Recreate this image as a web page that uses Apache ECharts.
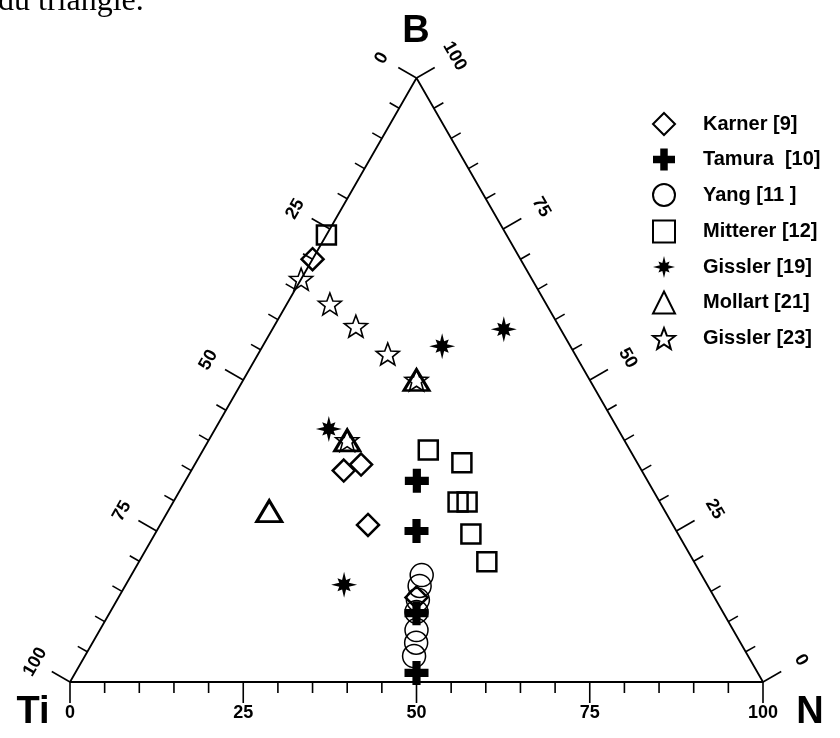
<!DOCTYPE html>
<html><head><meta charset="utf-8">
<script src="https://cdn.jsdelivr.net/npm/echarts@6/dist/echarts.min.js"></script>
<style>html,body{margin:0;padding:0;background:#fff}#c{width:840px;height:738px}</style>
</head><body><div id="c"></div>
<script>
// Ternary compositions, each point = [B, Ti, N] in %
const seriesNames = ['Karner [9]', 'Tamura  [10]', 'Yang [11 ]', 'Mitterer [12]', 'Gissler [19]', 'Mollart [21]', 'Gissler [23]'];
const karner    = [[70,30,0],[35,43,22],[36,40,24],[26,44,30],[14,43,43]];
const tamura    = [[33.3,33.3,33.4],[25,37.5,37.5],[11.4,44.3,44.3],[1.5,49.25,49.25]];
const yang      = [[17.7,40.4,41.9],[15.9,41.6,42.5],[13.6,43,43.4],[11.6,44.2,44.2],[8.6,45.7,45.7],[6.5,46.8,46.7],[4.3,48.2,47.5]];
const mitterer  = [[74,26,0],[38.4,29.1,32.5],[36.3,25.3,38.4],[29.8,29.1,41.1],[29.8,27.8,42.4],[24.5,29.9,45.6],[19.9,29.9,50.2]];
const gissler19 = [[41.9,41.7,16.4],[16.1,52.4,31.5],[55.6,18.5,25.9],[58.4,8.2,33.4]];
const mollart   = [[50,25,25],[40,40,20],[28.3,57.1,14.6]];
const gissler23 = [[66.7,33.3,0],[62.6,31.2,6.2],[58.9,29.3,11.8],[54.3,27,18.7],[50,25,25],[40,40,20]];
// Triangle vertices [B, Ti, N]: Ti corner, N corner, B corner
const vertices  = [[0,100,0],[0,0,100],[100,0,0],[0,100,0]];
// Axis ticks (percent) and labelled ticks
const tickValues  = [0,5,10,15,20,25,30,35,40,45,50,55,60,65,70,75,80,85,90,95,100];
const labelValues = [0,25,50,75,100];
const vertexLabels = ['B','Ti','N'];

// ternary -> cartesian (x = N + B/2, y = B)
function toCart(p){ return [p[2] + p[0]/2, p[0]]; }

// axis base points for a value v
const axisDefs = {
  bottom: v => [0, 100 - v, v],      // N axis (Ti -> N)
  left:   v => [100 - v, v, 0],      // Ti axis on the Ti-B side
  right:  v => [v, 0, 100 - v]       // B axis on the N-B side
};

function starPath(n, ro, ri){
  let s = '';
  for (let k = 0; k < 2*n; k++){
    const a = -Math.PI/2 + k*Math.PI/n;
    const r = k%2===0 ? ro : ri;
    s += (k===0?'M':'L') + (r*Math.cos(a)).toFixed(3) + ',' + (r*Math.sin(a)).toFixed(3);
  }
  return 'path://' + s + 'Z';
}
function asteriskPath(){
  let s = '';
  for (let k = 0; k < 16; k++){
    const a = -Math.PI/2 + k*Math.PI/8;
    const r = k%2===1 ? 0.4 : (k%4===0 ? 1 : 0.72);
    s += (k===0?'M':'L') + (r*Math.cos(a)).toFixed(3) + ',' + (r*Math.sin(a)).toFixed(3);
  }
  return 'path://' + s + 'Z';
}
const plusPath = 'path://M3.3,0H6.7V3.3H10V6.7H6.7V10H3.3V6.7H0V3.3H3.3Z';

const chart = echarts.init(document.getElementById('c'), null, {renderer:'canvas'});
const FONT = '"Liberation Sans", Arial, sans-serif';
const outline = w => ({color:'rgba(0,0,0,0)', borderColor:'#000', borderWidth:w, opacity:1});

function axisSeries(key){
  return {
    type:'custom', coordinateSystem:'cartesian2d', clip:false, silent:true, z:5,
    data: tickValues.map(v => [v, 0]),
    renderItem: function(params, api){
      const v = api.value(0);
      const p = api.coord(toCart(axisDefs[key](v)));
      const c = api.coord(toCart([33.333,33.333,33.334]));
      const a0 = api.coord(toCart(axisDefs[key](0)));
      const a1 = api.coord(toCart(axisDefs[key](100)));
      let dx = a1[0]-a0[0], dy = a1[1]-a0[1];
      const L = Math.hypot(dx, dy); dx/=L; dy/=L;
      let nx = dy, ny = -dx;
      if ((p[0]-c[0])*nx + (p[1]-c[1])*ny < 0){ nx=-nx; ny=-ny; }
      const major = labelValues.indexOf(v) >= 0;
      const len = major ? 21 : 11;
      const children = [{
        type:'line',
        shape:{x1:p[0], y1:p[1], x2:p[0]+nx*len, y2:p[1]+ny*len},
        style:{stroke:'#000', lineWidth:1.6}
      }];
      if (major){
        const off = key==='bottom' ? 31 : (key==='left' ? 40 : 44);
        const rot = key==='bottom' ? 0 : (key==='left' ? Math.PI/3 : -Math.PI/3);
        children.push({
          type:'text', x:p[0]+nx*off, y:p[1]+ny*off, rotation:rot,
          style:{text:String(v), align:'center', verticalAlign:'middle',
                 font:'bold 18px ' + FONT, fill:'#000'}
        });
      }
      return {type:'group', children};
    }
  };
}

function scatter(name, data, symbol, size, style){
  return {
    name, type:'scatter', data: data.map(toCart), symbol, symbolSize:size,
    symbolKeepAspect:true, itemStyle:style, z:10, silent:true
  };
}

const option = {
  animation:false,
  backgroundColor:'#fff',
  grid:{left:70, right:77, top:78, bottom:56},
  xAxis:{type:'value', min:0, max:100, show:false},
  yAxis:{type:'value', min:0, max:100, show:false},
  legend:{
    orient:'vertical', left:647, top:107, itemWidth:22, itemHeight:22, itemGap:12.5,
    selectedMode:false,
    textStyle:{fontSize:20, fontWeight:'bold', fontFamily:FONT, color:'#000', padding:[0,0,0,23]},
    data: seriesNames
  },
  graphic:[
    {type:'text', left:-2, top:-14, style:{text:'du triangle.', font:'32px "Liberation Serif", serif', fill:'#000'}},
    {type:'text', x:416, y:32, style:{text:vertexLabels[0], font:'bold 38px ' + FONT, fill:'#000', align:'center', verticalAlign:'middle'}},
    {type:'text', x:33, y:713, style:{text:vertexLabels[1], font:'bold 38px ' + FONT, fill:'#000', align:'center', verticalAlign:'middle'}},
    {type:'text', x:810, y:713, style:{text:vertexLabels[2], font:'bold 38px ' + FONT, fill:'#000', align:'center', verticalAlign:'middle'}}
  ],
  series:[
    {type:'line', data: vertices.map(toCart), symbol:'none', silent:true, z:4,
     lineStyle:{color:'#000', width:1.8}},
    axisSeries('bottom'), axisSeries('left'), axisSeries('right'),
    scatter(seriesNames[0], karner, 'diamond', 22, outline(2.5)),
    scatter(seriesNames[1], tamura, plusPath, 24, {color:'#000', opacity:1}),
    scatter(seriesNames[2], yang, 'circle', 23, outline(1.5)),
    scatter(seriesNames[3], mitterer, 'rect', 19, outline(2.5)),
    scatter(seriesNames[4], gissler19, asteriskPath(), 26, {color:'#000', opacity:1}),
    scatter(seriesNames[5], mollart, 'triangle', [25,21], outline(3)),
    scatter(seriesNames[6], gissler23, starPath(5, 1, 0.42), 23, outline(1.6))
  ]
};
chart.setOption(option);
</script></body></html>
